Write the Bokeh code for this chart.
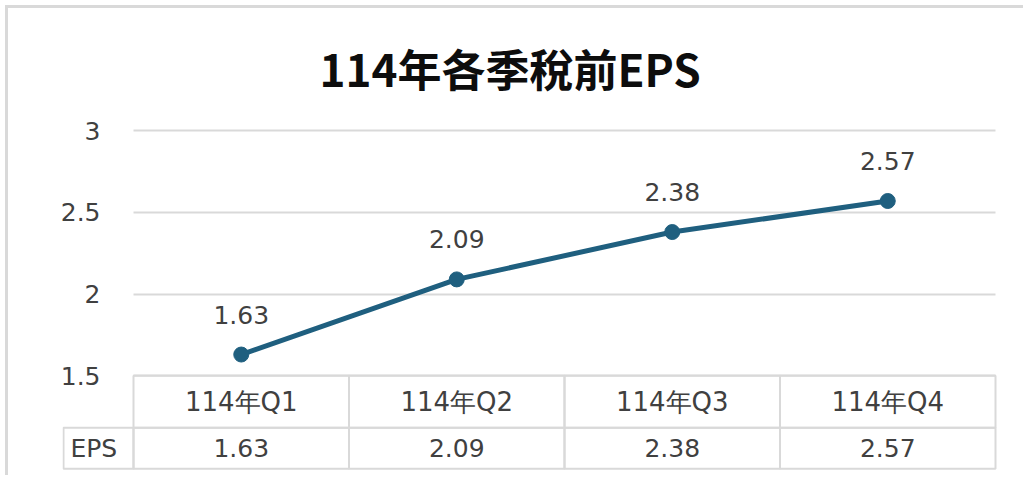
from bokeh.plotting import figure
from bokeh.models import Range1d, FixedTicker, NumeralTickFormatter
from bokeh.core.properties import value
from bokeh.embed import file_html
from bokeh.resources import INLINE

# ---- data ----
categories = ["114年Q1", "114年Q2", "114年Q3", "114年Q4"]
eps = [1.63, 2.09, 2.38, 2.57]
y_ticks = [1.5, 2, 2.5, 3]
row_label = "EPS"
title_text = "114年各季稅前EPS"

# ---- layout constants (pixels) ----
W, H = 1018, 470
TOP = 119
Y0, Y1 = 0.92, 3.02
CAT_PX = 215.5          # width of one category column
LABEL_W = 70            # width of the row-label cell
LEFT = 54
n = len(categories)
x_start = -(LABEL_W + 1) / CAT_PX
x_end = n + 3 / CAT_PX
FRAME_W = round((x_end - x_start) * CAT_PX)
FRAME_H = 343
scale = FRAME_H / (Y1 - Y0)           # px per y unit
HEAD_H, ROW_H = 52, 41
table_top = min(y_ticks)
head_c = table_top - HEAD_H / 2 / scale
row_c = table_top - (HEAD_H + ROW_H / 2) / scale

xs = [i + 0.5 for i in range(n)]      # category centres

LINE = "#1f5f7f"
GRID = "#d9d9d9"
TXT = "#404040"
FONT = value("DejaVu Sans")
FS = value("25px")

p = figure(width=W, height=H,
           x_range=Range1d(x_start, x_end),
           y_range=Range1d(Y0, Y1),
           x_axis_location=None,
           output_backend="svg", toolbar_location=None,
           min_border_left=LEFT, min_border_right=W - LEFT - FRAME_W,
           min_border_top=TOP, min_border_bottom=H - TOP - FRAME_H)
p.outline_line_color = None
p.background_fill_color = "white"
p.border_fill_color = "white"
p.xgrid.visible = False

# title
p.title.text = title_text
p.title.align = "left"
p.title.vertical_align = "top"
p.title.offset = 257
p.title.text_font = "Noto Sans CJK TC"
p.title.text_font_size = "44px"
p.title.text_font_style = "bold"
p.title.text_color = "#0d0d0d"
p.title.standoff = 52

# y axis
p.yaxis.ticker = FixedTicker(ticks=y_ticks)
p.yaxis.formatter = NumeralTickFormatter(format="0.[0]")
p.yaxis.axis_line_color = None
p.yaxis.major_tick_line_color = None
p.yaxis.minor_tick_line_color = None
p.yaxis.major_label_standoff = -44
p.yaxis.major_label_text_font = "DejaVu Sans"
p.yaxis.major_label_text_font_size = "25px"
p.yaxis.major_label_text_color = TXT
p.ygrid.ticker = FixedTicker(ticks=y_ticks)
p.ygrid.grid_line_color = GRID
p.ygrid.grid_line_width = 2
p.ygrid.cross_bounds = (0, n)

# data table (header + EPS row)
p.rect(x=xs, y=[head_c] * n, width=1, height=HEAD_H / scale,
       fill_color=None, line_color=GRID, line_width=2)
p.rect(x=xs, y=[row_c] * n, width=1, height=ROW_H / scale,
       fill_color=None, line_color=GRID, line_width=2)
p.rect(x=[-LABEL_W / CAT_PX / 2], y=[row_c], width=LABEL_W / CAT_PX, height=ROW_H / scale,
       fill_color=None, line_color=GRID, line_width=2)
p.text(x=xs, y=[head_c] * n, text=categories, text_align="center",
       text_baseline="middle", text_font=FONT, text_font_size=value("26px"), text_color=TXT)
p.text(x=xs, y=[row_c] * n, text=[f"{v:.2f}" for v in eps], text_align="center",
       text_baseline="middle", text_font=FONT, text_font_size=FS, text_color=TXT)
p.text(x=[-LABEL_W / CAT_PX], y=[row_c], text=[row_label], x_offset=7,
       text_align="left", text_baseline="middle",
       text_font=FONT, text_font_size=FS, text_color=TXT)

# series
p.line(x=xs, y=eps, line_color=LINE, line_width=5)
p.scatter(x=xs, y=eps, size=15, fill_color=LINE, line_color=LINE)
p.text(x=xs, y=eps, text=[f"{v:.2f}" for v in eps], y_offset=-40,
       text_align="center", text_baseline="middle",
       text_font=FONT, text_font_size=FS, text_color=TXT)

# outer chart-area border (top and left edges)
p.styles = {"border-top": "3px solid #d9d9d9", "border-left": "3px solid #d9d9d9",
            "margin-top": "5px", "margin-left": "5px"}

open("out.html", "w").write(file_html(p, INLINE))
